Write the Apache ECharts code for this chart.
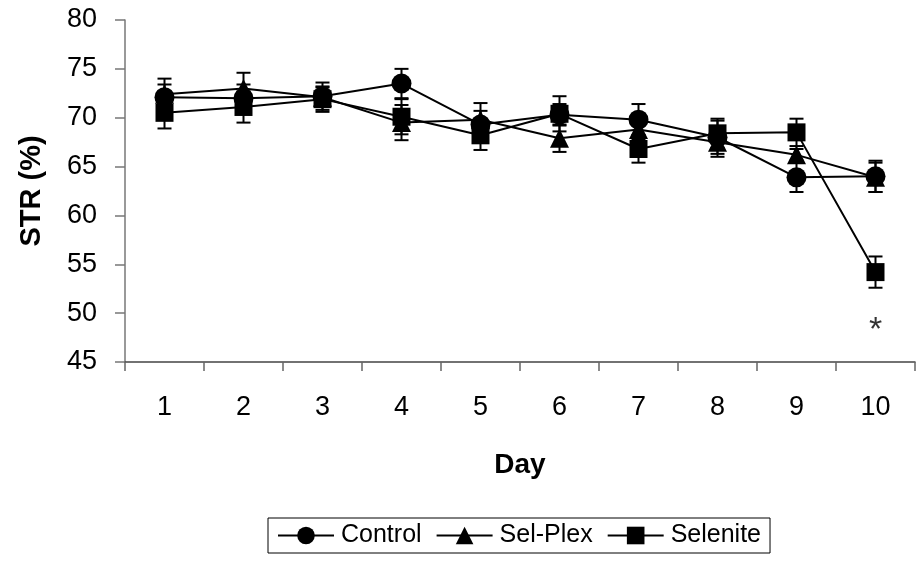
<!DOCTYPE html>
<html>
<head>
<meta charset="utf-8">
<script src="https://cdn.jsdelivr.net/npm/echarts@6/dist/echarts.min.js"></script>
<style>html,body{margin:0;padding:0;background:#fff;}#c{width:917px;height:565px;}</style>
</head>
<body>
<div id="c"></div>
<script>
const days = ['1','2','3','4','5','6','7','8','9','10'];
const yTicks = [45, 50, 55, 60, 65, 70, 75, 80];
const control = [72.1, 72.0, 72.2, 73.5, 69.3, 70.3, 69.8, 68.0, 63.9, 64.0];
const controlErr = [1.9, 1.4, 1.4, 1.5, 1.4, 1.1, 1.6, 1.7, 1.5, 1.6];
const selPlex = [72.4, 73.0, 72.1, 69.5, 69.8, 67.9, 68.8, 67.5, 66.2, 63.9];
const selPlexErr = [1.0, 1.6, 1.0, 1.8, 1.7, 1.4, 1.0, 1.5, 0.6, 1.5];
const selenite = [70.5, 71.1, 71.9, 70.1, 68.2, 70.4, 66.8, 68.4, 68.5, 54.2];
const seleniteErr = [1.6, 1.6, 1.3, 1.8, 1.5, 1.8, 1.4, 1.5, 1.4, 1.6];
const significance = [{day: '10', value: 48.8, text: '*'}];

const FONT = 'Liberation Sans';
const chart = echarts.init(document.getElementById('c'));

function errSeries(name, vals, errs) {
  return {
    type: 'custom',
    name: name + ' err',
    z: 3,
    silent: true,
    data: vals.map((v, i) => [i, v - errs[i], v + errs[i]]),
    renderItem: function (params, api) {
      const x = api.value(0);
      const lo = api.coord([x, api.value(1)]);
      const hi = api.coord([x, api.value(2)]);
      const hw = 7;
      const st = {stroke: '#000', lineWidth: 2};
      return {
        type: 'group',
        children: [
          {type: 'line', shape: {x1: lo[0], y1: lo[1], x2: hi[0], y2: hi[1]}, style: st},
          {type: 'line', shape: {x1: lo[0]-hw, y1: lo[1], x2: lo[0]+hw, y2: lo[1]}, style: st},
          {type: 'line', shape: {x1: hi[0]-hw, y1: hi[1], x2: hi[0]+hw, y2: hi[1]}, style: st}
        ]
      };
    }
  };
}

function lineSeries(name, vals, symbol, size) {
  return {
    type: 'line',
    name: name,
    data: vals,
    symbol: symbol,
    symbolSize: size,
    z: 5,
    lineStyle: {color: '#000', width: 2},
    itemStyle: {color: '#000'},
    emphasis: {disabled: true}
  };
}

const option = {
  animation: false,
  backgroundColor: '#fff',
  grid: {left: 125, right: 2, top: 20, bottom: 203, containLabel: false},
  legend: {
    data: ['Control', 'Sel-Plex', 'Selenite'],
    bottom: 12,
    left: 268,
    itemWidth: 56,
    itemHeight: 22,
    itemGap: 14,
    padding: [5, 9, 5, 9],
    borderColor: '#000',
    borderWidth: 1,
    borderRadius: 0,
    textStyle: {fontFamily: FONT, fontSize: 25, color: '#000', padding: [0, 0, 0, 2]}
  },
  xAxis: {
    type: 'category',
    data: days,
    boundaryGap: true,
    name: 'Day',
    nameLocation: 'middle',
    nameGap: 89,
    nameTextStyle: {fontFamily: FONT, fontSize: 28, fontWeight: 'bold', color: '#000'},
    axisLine: {lineStyle: {color: '#444', width: 1.5}},
    axisTick: {show: true, inside: false, length: 9, alignWithLabel: false, lineStyle: {color: '#666', width: 1.5}},
    axisLabel: {fontFamily: FONT, fontSize: 27, color: '#000', margin: 32}
  },
  yAxis: {
    type: 'value',
    min: yTicks[0],
    max: yTicks[yTicks.length - 1],
    interval: 5,
    name: 'STR (%)',
    nameLocation: 'middle',
    nameGap: 79,
    nameRotate: 90,
    nameTextStyle: {fontFamily: FONT, fontSize: 29, fontWeight: 'bold', color: '#000'},
    splitLine: {show: false},
    axisLine: {show: true, lineStyle: {color: '#777', width: 1.5}},
    axisTick: {show: true, inside: false, length: 10, lineStyle: {color: '#777', width: 1.5}},
    axisLabel: {fontFamily: FONT, fontSize: 27, color: '#000', margin: 28}
  },
  series: [
    lineSeries('Control', control, 'circle', 20),
    lineSeries('Sel-Plex', selPlex, 'triangle', 19),
    lineSeries('Selenite', selenite, 'rect', 18),
    errSeries('Control', control, controlErr),
    errSeries('Sel-Plex', selPlex, selPlexErr),
    errSeries('Selenite', selenite, seleniteErr),
    {
      type: 'scatter',
      name: 'sig',
      symbolSize: 1,
      itemStyle: {color: 'rgba(0,0,0,0)'},
      data: significance.map(s => ({value: [s.day, s.value], label: {formatter: s.text}})),
      label: {show: true, position: 'inside', offset: [0, 6], fontFamily: FONT, fontSize: 34, color: '#000'},
      silent: true
    }
  ]
};
chart.setOption(option);
</script>
</body>
</html>
